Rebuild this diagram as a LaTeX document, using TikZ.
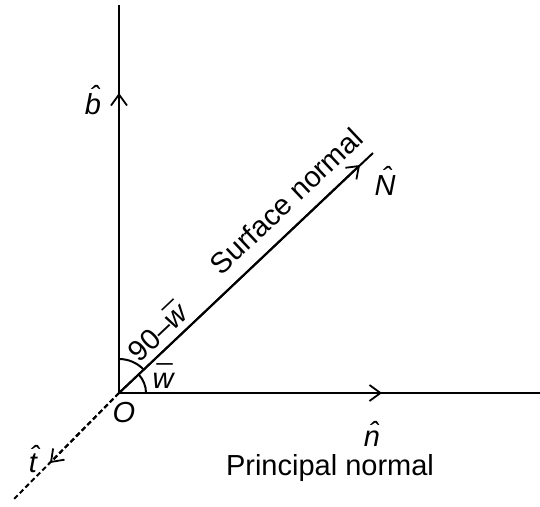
\documentclass[tikz,border=0pt]{standalone}
\usepackage{fontspec}
\setmainfont{Liberation Sans}
\usetikzlibrary{arrows.meta}
% 字母上方的帽子与横线
\newcommand{\overmark}[2]{\textit{\setbox0\hbox{#2}\setbox2\hbox{#1}%
	\rlap{\hbox to\wd0{\hss\raise\dimexpr\ht0+3pt\relax\hbox{\kern.12em\lower\dimexpr\ht2-0.2em\relax\box2}\hss}}\box0}}
\newcommand{\hatv}[1]{\overmark{\char"02C6}{#1}}
\newcommand{\barv}[1]{\overmark{\char"00AF}{#1}}

\begin{document}
\begin{tikzpicture}[x=1pt, y=1pt, line width=2pt,
		every node/.style={font=\fontsize{29}{33}\selectfont, inner sep=2pt},
		midarrow/.style={-{Straight Barb[length=11pt, width=16pt, line width=1.8pt]}}]
	\useasboundingbox (0,0) rectangle (540,506);
	% 原点与各方向端点
	\coordinate (O) at (119,113);
	\coordinate (btop) at (119,501);
	\coordinate (ntop) at (540,113);
	\coordinate (Nend) at (373,353);
	\coordinate (tend) at (13,6);
	
	% 轴线
	\draw (O) -- (btop);
	\draw (O) -- (ntop);
	\draw (O) -- (Nend);
	\draw[dashed, dash pattern=on 5pt off 3pt] (O) -- (tend);
	
	% 中间箭头
	\draw[midarrow] (O) -- (119,413) coordinate (barrow);
	\draw[midarrow] (O) -- (382,113) coordinate (narrow);
	\draw[midarrow] (O) -- (360,341) coordinate (Narrow);
	\draw[midarrow, dashed, dash pattern=on 5pt off 3pt] (O) -- (50,43) coordinate (tarrow);
	
	% 角度弧
	\draw (119,147) arc (90:43.4:34);
	\draw (146,113) arc (0:43.4:27);
	
	% 标注
	\node (blabel) at (93,406) {\hatv{b}};
	\node (nlabel) at (372,72) {\hatv{n}};
	\node (Nlabel) at (385,325) {\hatv{N}};
	\node (tlabel) at (33,47) {\hatv{t}};
	\node (Olabel) at (124,93) {\textit{O}};
	\node[anchor=base] (pnormal) at (330,31) {Principal normal};
	\node (wlabel) at (163,130) {\barv{w}};
	\path (O) -- (Nend)
		node[pos=.725, sloped, above=11pt] (snormal) {Surface normal}
		node[pos=.2, sloped, above=4pt] (angle) {90–\barv{w}};
\end{tikzpicture}
\end{document}
